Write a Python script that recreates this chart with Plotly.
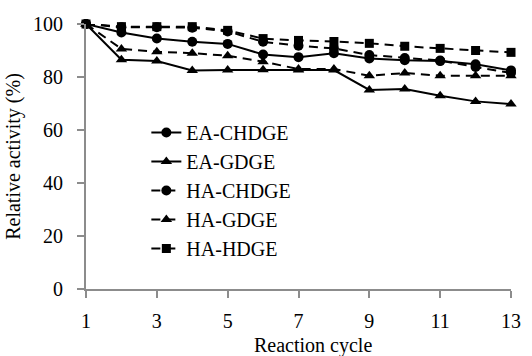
import plotly.graph_objects as go

cycles = list(range(1, 14))
ea_chdge = [100, 96.8, 94.5, 93.3, 92.5, 88.5, 87.5, 89.0, 87.0, 86.3, 86.0, 84.8, 82.5]
ea_gdge = [100, 86.5, 86.0, 82.5, 82.6, 82.7, 82.6, 82.6, 75.1, 75.5, 72.9, 70.8, 69.8]
ha_chdge = [100, 98.8, 98.8, 98.6, 97.2, 93.3, 91.8, 90.8, 88.3, 87.2, 86.2, 83.8, 81.5]
ha_gdge = [100, 90.6, 89.5, 89.0, 88.0, 85.8, 83.0, 83.0, 80.5, 81.5, 80.5, 80.5, 80.5]
ha_hdge = [100, 99.0, 99.0, 99.0, 97.6, 94.5, 93.8, 93.4, 92.7, 91.6, 90.8, 90.0, 89.3]
x_ticks = [1, 3, 5, 7, 9, 11, 13]
y_ticks = [0, 20, 40, 60, 80, 100]

series = [
    ("EA-CHDGE", ea_chdge, "solid", "circle"),
    ("EA-GDGE", ea_gdge, "solid", "triangle-up"),
    ("HA-CHDGE", ha_chdge, "9px,6px", "circle"),
    ("HA-GDGE", ha_gdge, "9px,6px", "triangle-up"),
    ("HA-HDGE", ha_hdge, "9px,6px", "square"),
]

FONT = "Liberation Serif"
FS = 20
fig = go.Figure()
for name, vals, dash, sym in series:
    fig.add_trace(go.Scatter(
        x=cycles, y=vals, name=name, mode="lines+markers",
        line=dict(color="black", width=2, dash=dash),
        marker=dict(symbol=sym, size=10 if sym != "square" else 9, color="black"),
        cliponaxis=False,
    ))

axis_common = dict(
    showgrid=False, zeroline=False, showline=True, linecolor="#8c8c8c", linewidth=2,
    ticks="outside", tickcolor="#8c8c8c", tickwidth=1.5, ticklen=7,
    tickfont=dict(family=FONT, size=FS, color="black"),
)
fig.update_xaxes(range=[1, 13], tickvals=x_ticks, ticklabelstandoff=6, **axis_common)
fig.update_yaxes(range=[0, 100], tickvals=y_ticks, ticklabelstandoff=10,
                 title=dict(text="Relative activity (%)", font=dict(family=FONT, size=FS, color="black"), standoff=7),
                 **axis_common)

fig.add_annotation(text="Reaction cycle", xref="paper", yref="paper", x=0.533, y=-0.213,
                   xanchor="center", yanchor="middle", showarrow=False,
                   font=dict(family=FONT, size=FS, color="black"))

fig.update_layout(
    width=532, height=356,
    margin=dict(l=86, r=11, t=24, b=67),
    paper_bgcolor="white", plot_bgcolor="white",
    font=dict(family=FONT, color="black"),
    showlegend=True,
    legend=dict(x=0.142, y=0.372, xanchor="left", yanchor="middle",
                font=dict(family=FONT, size=FS, color="black"),
                bgcolor="rgba(0,0,0,0)", tracegroupgap=0),
)

fig.write_html("out.html")
